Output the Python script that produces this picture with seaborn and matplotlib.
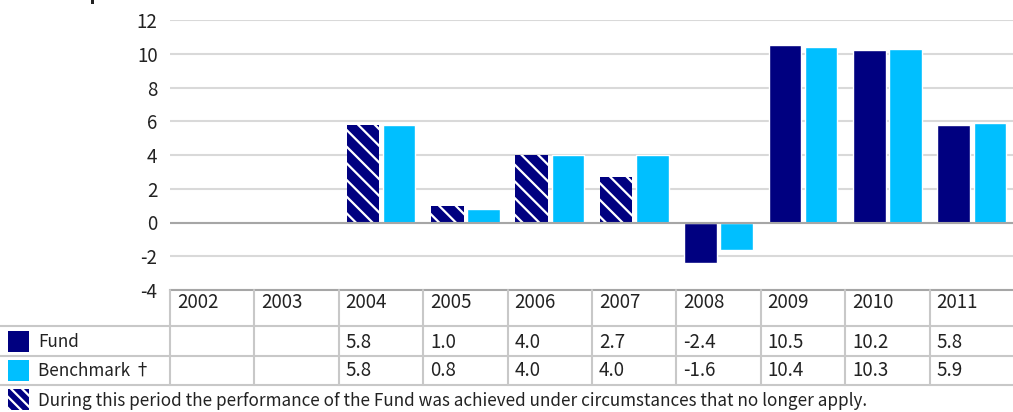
import matplotlib
matplotlib.use("Agg")
import matplotlib.pyplot as plt
from matplotlib.patches import Rectangle
from matplotlib.lines import Line2D
import matplotlib.transforms as mtransforms
import seaborn as sns
import pandas as pd

# ---- data ----
years = ["2002", "2003", "2004", "2005", "2006", "2007", "2008", "2009", "2010", "2011"]
fund = [None, None, 5.8, 1.0, 4.0, 2.7, -2.4, 10.5, 10.2, 5.8]
benchmark = [None, None, 5.8, 0.8, 4.0, 4.0, -1.6, 10.4, 10.3, 5.9]
hatched_years = ["2004", "2005", "2006", "2007"]
series_names = ["Fund", "Benchmark \u2020"]
y_ticks = [-4, -2, 0, 2, 4, 6, 8, 10, 12]
footnote = "During this period the performance of the Fund was achieved under circumstances that no longer apply."
title = "Discrete performance"

FUND_C = "#000080"
BENCH_C = "#00BFFF"
TXT = "#222222"
NUM_FS = 13.5
WORD_FS = 12.3

sns.set_style("white")
plt.rcParams['font.family'] = ['Noto Sans CJK JP', 'DejaVu Sans']
plt.rcParams['hatch.linewidth'] = 1.6
plt.rcParams['hatch.color'] = 'white'

rows = []
for y, f, b in zip(years, fund, benchmark):
    if f is not None:
        rows.append({"year": y, "series": series_names[0], "value": f})
    if b is not None:
        rows.append({"year": y, "series": series_names[1], "value": b})
df = pd.DataFrame(rows)

W, H = 1013, 412
fig = plt.figure(figsize=(W / 100, H / 100), dpi=100)
ax_left, ax_right = 170 / W, 1014 / W
ax_bottom, ax_top = (H - 290) / H, (H - 20) / H
ax = fig.add_axes([ax_left, ax_bottom, ax_right - ax_left, ax_top - ax_bottom])

sns.barplot(data=df, x="year", y="value", hue="series", order=years,
            hue_order=series_names, palette={series_names[0]: FUND_C, series_names[1]: BENCH_C},
            width=0.86, gap=0.1, legend=False, ax=ax, errorbar=None, saturation=1)

# hatch fund bars in earlier period
for bar in ax.containers[0]:
    cx = bar.get_x() + bar.get_width() / 2
    idx = int(round(cx))
    if 0 <= idx < len(years) and years[idx] in hatched_years:
        bar.set_hatch("\\\\")
        bar.set_edgecolor("white")
        bar.set_linewidth(0)

ax.set_xlim(-0.5, len(years) - 0.5)
ax.set_ylim(min(y_ticks), max(y_ticks))
ax.set_yticks(y_ticks)
ax.set_yticklabels([str(t) for t in y_ticks])
ax.set_xticks([])
ax.set_xlabel("")
ax.set_ylabel("")
ax.grid(axis="y", color="#d9d9d9", lw=1.5)
ax.set_axisbelow(True)
ax.axhline(0, color="#a6a6a6", lw=1.5, zorder=1)
for s in ["top", "right", "left"]:
    ax.spines[s].set_visible(False)
ax.spines["bottom"].set_color("#a6a6a6")
ax.spines["bottom"].set_linewidth(1.5)
ax.tick_params(axis="y", length=0, pad=9, labelsize=NUM_FS, labelcolor=TXT)

# ---- table below ----
def fy(px):
    return (H - px) / H

blend = mtransforms.blended_transform_factory(ax.transData, fig.transFigure)
grid_c = "#c8c8c8"
for ypx in [326, 356, 385]:
    fig.add_artist(Line2D([0, 1], [fy(ypx), fy(ypx)], transform=fig.transFigure,
                          color=grid_c, lw=1.5))
for k in range(len(years)):
    fig.add_artist(Line2D([k - 0.5, k - 0.5], [fy(290), fy(385)], transform=blend,
                          color=grid_c, lw=1.5, clip_on=False))

for k, y in enumerate(years):
    ax.text(k - 0.5 + 0.08, fy(303), y, transform=blend, ha="left", va="center",
            fontsize=NUM_FS, color=TXT)
    if fund[k] is not None:
        ax.text(k - 0.5 + 0.08, fy(342), f"{fund[k]:.1f}", transform=blend, ha="left",
                va="center", fontsize=NUM_FS, color=TXT)
    if benchmark[k] is not None:
        ax.text(k - 0.5 + 0.08, fy(371), f"{benchmark[k]:.1f}", transform=blend, ha="left",
                va="center", fontsize=NUM_FS, color=TXT)

# legend cells
sq = 21
fig.add_artist(Rectangle((8 / W, fy(352)), sq / W, sq / H, transform=fig.transFigure,
                         facecolor=FUND_C, edgecolor="none"))
fig.add_artist(Rectangle((8 / W, fy(381)), sq / W, sq / H, transform=fig.transFigure,
                         facecolor=BENCH_C, edgecolor="none"))
fig.text(38 / W, fy(342), series_names[0], ha="left", va="center", fontsize=WORD_FS, color=TXT)
fig.text(38 / W, fy(371), series_names[1], ha="left", va="center", fontsize=WORD_FS, color=TXT)

# footnote
fig.add_artist(Rectangle((8 / W, fy(410)), sq / W, sq / H, transform=fig.transFigure,
                         facecolor=FUND_C, edgecolor="white", linewidth=0, hatch="\\\\\\"))
fig.text(38 / W, fy(401), footnote, ha="left", va="center", fontsize=WORD_FS, color=TXT)

# title (mostly above visible area, only a descender shows)
fig.text(0.0, fy(0), title, ha="left", va="baseline", fontsize=15, fontweight="bold",
         color=TXT)

fig.savefig("out.png", dpi=100)
